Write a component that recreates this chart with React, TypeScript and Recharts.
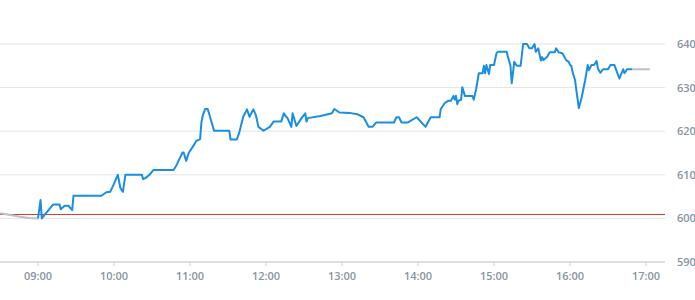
import { CartesianGrid, Line, LineChart, ReferenceLine, XAxis, YAxis } from 'recharts'

// minutes since midnight
const preTimes = [510, 518, 526, 533, 540]
const prePrices = [601.2, 600.8, 600.4, 600.1, 600.0]

const dayTimes = [
  540, 542, 543, 552, 557, 558, 561, 564, 567, 568, 590, 594, 597, 599, 603, 605, 607, 609, 622, 623,
  625, 628, 631, 647, 649, 654, 655, 657, 659, 663, 665, 668, 669, 670, 672, 674, 679, 691, 692, 697,
  699, 702, 705, 707, 710, 712, 714, 718, 723, 726, 732, 734, 736, 737, 740, 741, 744, 748, 751, 752,
  753, 763, 772, 774, 778, 786, 792, 797, 801, 804, 807, 821, 823, 825, 827, 832, 839, 846, 850, 857,
  858, 861, 864, 866, 868, 869, 870, 871, 872, 874, 875, 877, 883, 884, 886, 888, 891, 892, 893, 894,
  896, 897, 900, 902, 903, 910, 911, 913, 914, 916, 918, 921, 923, 926, 928, 930, 932, 933, 935, 937,
  938, 939, 942, 944, 948, 949, 951, 954, 957, 959, 960, 961, 962, 964, 965, 967, 969, 972, 974, 975,
  977, 979, 981, 982, 984, 986, 990, 992, 995, 997, 999, 1002, 1003, 1005, 1009,
]
const dayPrices = [
  600.0, 604.2, 600.0, 603.2, 603.2, 602.1, 602.9, 602.9, 601.9, 605.2, 605.2, 606.0, 606.1, 607.3, 610.0, 607.0, 606.1, 610.0, 610.0, 609.0,
  609.3, 610.0, 611.1, 611.1, 612.0, 615.1, 615.1, 613.2, 615.0, 616.8, 617.8, 618.2, 622.0, 623.5, 625.1, 625.1, 620.1, 620.1, 618.1, 618.1,
  619.8, 623.3, 625.0, 623.3, 625.0, 623.7, 621.0, 620.1, 621.0, 622.2, 622.2, 624.1, 623.3, 623.0, 621.0, 624.1, 621.2, 623.0, 624.1, 622.2,
  623.0, 623.5, 624.1, 625.1, 624.3, 624.2, 623.9, 623.2, 621.0, 621.0, 622.0, 622.0, 623.2, 623.2, 622.0, 622.0, 623.2, 621.0, 623.2, 623.2,
  625.1, 626.4, 627.0, 627.0, 628.1, 627.2, 628.1, 626.2, 627.0, 627.2, 630.1, 628.1, 628.1, 627.2, 629.8, 633.3, 633.3, 635.0, 633.3, 635.2,
  633.1, 635.2, 635.2, 637.9, 638.2, 638.2, 637.1, 635.0, 631.0, 635.9, 635.0, 635.0, 640.0, 640.0, 639.0, 639.0, 640.0, 638.2, 639.0, 636.2,
  637.0, 636.3, 637.1, 638.1, 638.1, 639.0, 638.1, 637.9, 636.3, 635.9, 635.2, 635.0, 633.6, 631.7, 629.4, 625.3, 627.5, 631.7, 635.2, 634.0,
  635.2, 635.2, 636.1, 634.4, 633.4, 634.2, 634.2, 635.2, 635.2, 633.6, 632.1, 634.2, 633.3, 634.2, 634.2,
]

const postTimes = [1009, 1023]
const postPrices = [634.2, 634.2]

const hourTicks = [540, 600, 660, 720, 780, 840, 900, 960, 1020]
const priceTicks = [590, 600, 610, 620, 630, 640]
const previousClose = 600.9

const toRows = (times: number[], prices: number[]) => times.map((t, i) => ({ t, price: prices[i] }))

const fmtTime = (m: number) => `${String(Math.floor(m / 60)).padStart(2, '0')}:${String(m % 60).padStart(2, '0')}`

const tickStyle = { fontFamily: '"Open Sans", sans-serif', fontSize: 11, fill: '#8795a1', fontWeight: 600 }

function App() {
  return (
    <div style={{ position: 'absolute', left: 0, top: 0, background: '#fff' }}>
      <LineChart width={695} height={300} margin={{ top: 44, right: 0, bottom: 0, left: 0 }}>
        <CartesianGrid vertical={false} stroke="#e3e5e8" />
        <XAxis
          dataKey="t"
          type="number"
          domain={[510, 1035]}
          ticks={hourTicks}
          tickFormatter={fmtTime}
          tick={tickStyle}
          tickSize={4}
          tickMargin={6}
          height={38}
          stroke="#c9ced3"
          allowDuplicatedCategory={false}
        />
        <YAxis
          orientation="right"
          type="number"
          domain={[590, 640]}
          ticks={priceTicks}
          tick={{ ...tickStyle, textAnchor: 'start' }}
          tickLine={false}
          axisLine={false}
          tickSize={6}
          tickMargin={6}
          width={30}
        />
        <ReferenceLine y={previousClose} stroke="#d43a32" strokeWidth={1} />
        <Line
          data={toRows(preTimes, prePrices)}
          dataKey="price"
          stroke="#b8c1ca"
          strokeWidth={2}
          dot={false}
          isAnimationActive={false}
        />
        <Line
          data={toRows(postTimes, postPrices)}
          dataKey="price"
          stroke="#b8c1ca"
          strokeWidth={2}
          dot={false}
          isAnimationActive={false}
        />
        <Line
          data={toRows(dayTimes, dayPrices)}
          dataKey="price"
          stroke="#1a8ee1"
          strokeWidth={2}
          strokeLinejoin="round"
          dot={false}
          isAnimationActive={false}
        />
      </LineChart>
    </div>
  )
}

export default App
